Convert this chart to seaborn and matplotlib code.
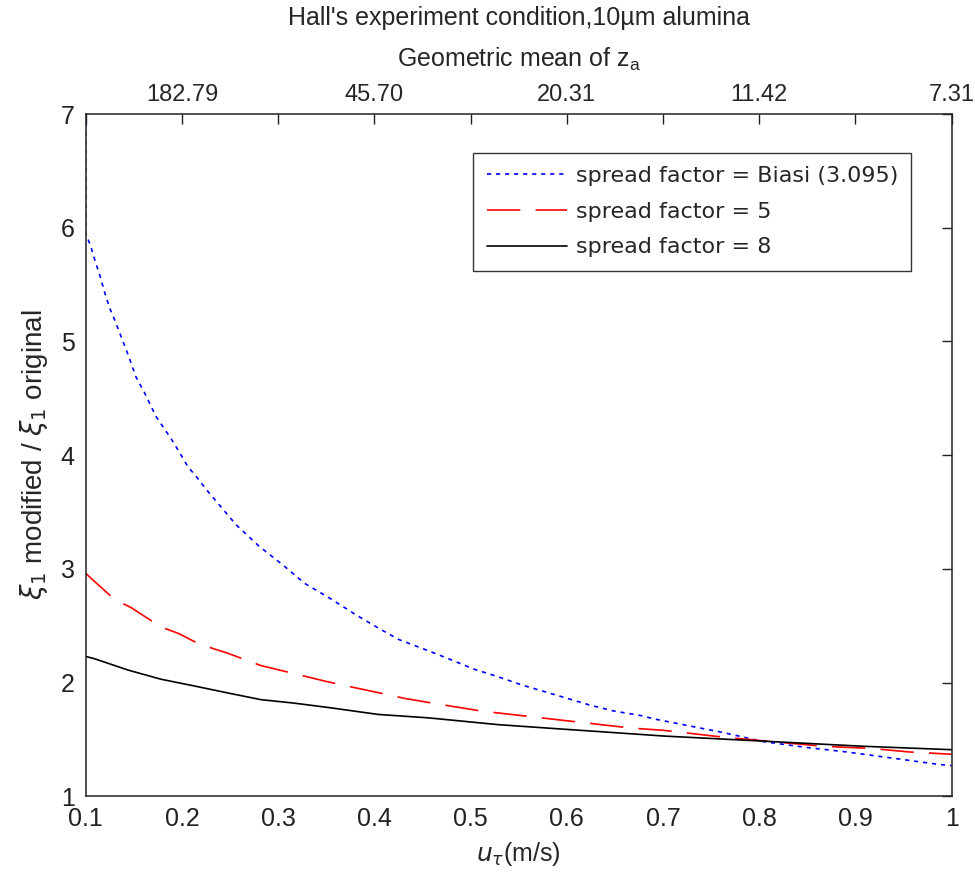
import matplotlib
matplotlib.use("Agg")
import matplotlib.pyplot as plt
import seaborn as sns
import pandas as pd

# values
x_biasi = [0.100, 0.100, 0.105, 0.110, 0.115, 0.120, 0.125, 0.130, 0.135, 0.145,
           0.152, 0.161, 0.173, 0.189, 0.197, 0.206, 0.215, 0.227, 0.256, 0.280,
           0.304, 0.328, 0.356, 0.380, 0.404, 0.425, 0.453, 0.477, 0.503, 0.529,
           0.553, 0.577, 0.601, 0.625, 0.649, 0.677, 0.691, 0.715, 0.763, 0.805,
           0.849, 0.891, 0.935, 0.987, 1.000]
y_biasi = [7.40, 5.95, 5.84, 5.70, 5.57, 5.42, 5.29, 5.19, 5.08, 4.86,
           4.69, 4.55, 4.34, 4.14, 4.03, 3.90, 3.81, 3.68, 3.39, 3.20,
           3.04, 2.87, 2.73, 2.60, 2.48, 2.38, 2.29, 2.21, 2.12, 2.05,
           1.98, 1.92, 1.86, 1.80, 1.75, 1.71, 1.68, 1.64, 1.56, 1.48,
           1.43, 1.39, 1.34, 1.28, 1.27]

x_sf5 = [0.100, 0.109, 0.130, 0.147, 0.178, 0.197, 0.213, 0.232, 0.247, 0.282,
         0.316, 0.350, 0.377, 0.405, 0.432, 0.460, 0.511, 0.563, 0.615, 0.667,
         0.701, 0.763, 0.815, 0.867, 0.918, 0.956, 1.000]
y_sf5 = [2.96, 2.89, 2.73, 2.66, 2.49, 2.43, 2.36, 2.30, 2.26, 2.15,
         2.08, 2.01, 1.96, 1.91, 1.86, 1.82, 1.75, 1.70, 1.65, 1.60,
         1.58, 1.52, 1.48, 1.44, 1.42, 1.39, 1.37]

x_sf8 = [0.100, 0.109, 0.144, 0.178, 0.213, 0.247, 0.282, 0.316, 0.353, 0.404,
         0.456, 0.529, 0.580, 0.632, 0.701, 0.770, 0.839, 0.908, 1.000]
y_sf8 = [2.23, 2.21, 2.11, 2.03, 1.97, 1.91, 1.85, 1.82, 1.78, 1.72,
         1.69, 1.63, 1.60, 1.57, 1.53, 1.50, 1.47, 1.44, 1.41]

top_ticks = [0.2, 0.4, 0.6, 0.8, 1.0]
top_labels = ["182.79", "45.70", "20.31", "11.42", "7.31"]

sns.set_style("white")
plt.rcParams['font.family'] = ['Liberation Sans', 'DejaVu Sans']
plt.rcParams['lines.scale_dashes'] = False

fig = plt.figure(figsize=(9.75, 8.77), dpi=100)
ax = fig.add_axes([0.088, 0.092, 0.888, 0.778])

series = [
    (x_biasi, y_biasi, "spread factor = Biasi (3.095)", "#0000ff", (0, (3, 3.5))),
    (x_sf5, y_sf5, "spread factor = 5", "#ff0000", (0, (24, 11))),
    (x_sf8, y_sf8, "spread factor = 8", "black", "-"),
]
for xs, ys, lab, col, ls in series:
    df = pd.DataFrame({"x": xs, "y": ys})
    sns.lineplot(data=df, x="x", y="y", ax=ax, color=col, linestyle=ls,
                 linewidth=1.2, estimator=None, sort=False, label=lab)

ax.set_xlim(0.1, 1.0)
ax.set_ylim(1, 7)
ax.set_xticks([0.1, 0.2, 0.3, 0.4, 0.5, 0.6, 0.7, 0.8, 0.9, 1.0])
ax.set_xticklabels(["0.1", "0.2", "0.3", "0.4", "0.5", "0.6", "0.7", "0.8", "0.9", "1"])
ax.set_yticks([1, 2, 3, 4, 5, 6, 7])
ax.tick_params(direction="in", length=7, width=1, top=True, right=True,
               labelsize=18, pad=8, colors="#222222")
for sp in ax.spines.values():
    sp.set_color("#222222")
    sp.set_linewidth(1.1)

ax.set_xlabel(r"$u_\tau$(m/s)", fontsize=18, labelpad=6)
ax.set_ylabel(r"$\xi_1$ modified / $\xi_1$ original", fontsize=20, labelpad=8)

sec = ax.secondary_xaxis("top")
sec.set_xticks(top_ticks)
sec.set_xticklabels(top_labels)
sec.tick_params(length=0, labelsize=17, pad=6)
sec.spines["top"].set_visible(False)
sec.set_xlabel("Geometric mean of z$_\\mathregular{a}$", fontsize=18, labelpad=12)
ax.set_title("Hall's experiment condition,10\u00b5m alumina", fontsize=18, pad=64)

leg = ax.legend(loc="upper left", bbox_to_anchor=(0.4476, 0.943), borderaxespad=0,
                frameon=True, fancybox=False, edgecolor="black",
                prop={"family": "DejaVu Sans", "size": 16},
                handlelength=3.6, handletextpad=0.4, borderpad=0.6,
                labelspacing=0.7)
leg.get_frame().set_linewidth(1.0)

fig.savefig("out.png", dpi=100)
